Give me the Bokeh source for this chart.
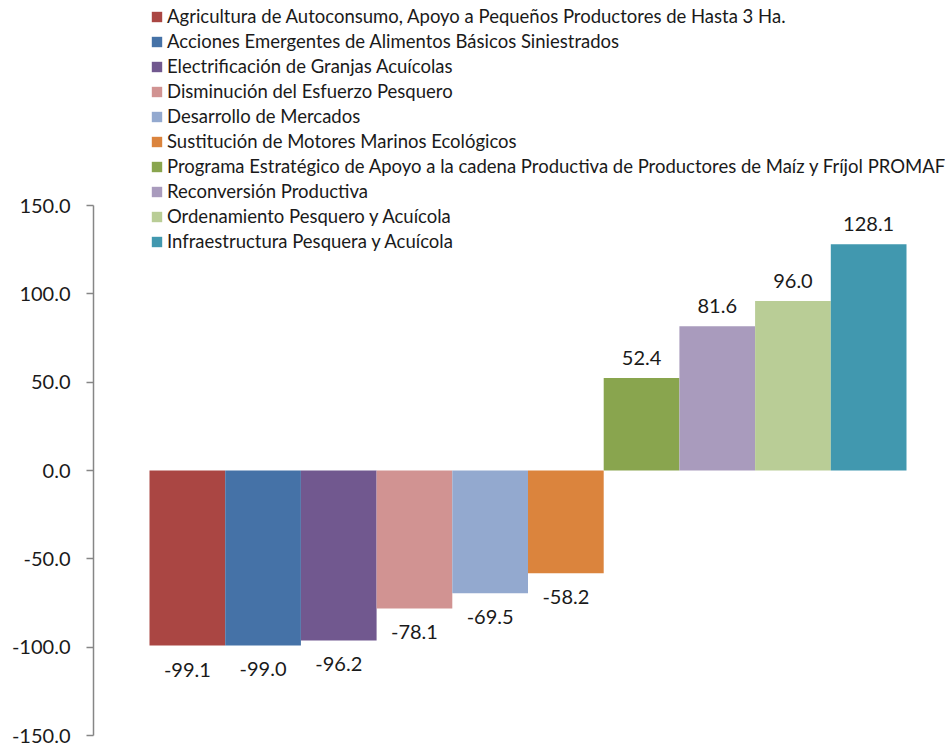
from bokeh.plotting import figure
from bokeh.models import (ColumnDataSource, Legend, LegendItem, LinearAxis,
                          FixedTicker, PrintfTickFormatter, Range1d)
from bokeh.embed import file_html
from bokeh.resources import INLINE
from bokeh.core.properties import value

categories = [
    "Agricultura de Autoconsumo, Apoyo a Pequeños Productores de Hasta 3 Ha.",
    "Acciones Emergentes de Alimentos Básicos Siniestrados",
    "Electrificación de Granjas Acuícolas",
    "Disminución del Esfuerzo Pesquero",
    "Desarrollo de Mercados",
    "Sustitución de Motores Marinos Ecológicos",
    "Programa Estratégico de Apoyo a la cadena Productiva de Productores de Maíz y Fríjol PROMAF",
    "Reconversión Productiva",
    "Ordenamiento Pesquero y Acuícola",
    "Infraestructura Pesquera y Acuícola",
]
values = [-99.1, -99.0, -96.2, -78.1, -69.5, -58.2, 52.4, 81.6, 96.0, 128.1]
colors = ["#AA4643", "#4572A7", "#71588F", "#D19392", "#93A9CF",
          "#DB843D", "#89A54E", "#A99BBD", "#B9CD96", "#4198AF"]
y_ticks = [-150, -100, -50, 0, 50, 100, 150]

FONT = "Lato"

xs = list(range(len(values)))
labels = [f"{v:.1f}" for v in values]
offsets = [-20 if v >= 0 else 24 for v in values]

src = ColumnDataSource(dict(x=xs, top=values, color=colors, label=labels, yoff=offsets))

W, H = 945, 746
LEFT = 93
BOTTOM = 11
px_per_cat = 75.7
frame_w = W - LEFT
x0 = -0.5 - 56 / px_per_cat
x1 = x0 + frame_w / px_per_cat
px_per_unit = 88.33 / 50
frame_h = H - BOTTOM
y1 = -150 + frame_h / px_per_unit

p = figure(width=W, height=H, output_backend="svg", toolbar_location=None,
           x_range=Range1d(x0, x1), y_range=Range1d(-150, y1),
           x_axis_location=None, y_axis_location=None,
           min_border_left=LEFT, min_border_right=0, min_border_top=0,
           min_border_bottom=BOTTOM)
p.outline_line_color = None
p.xgrid.visible = False
p.ygrid.visible = False
p.background_fill_color = "white"

ax = LinearAxis(ticker=FixedTicker(ticks=y_ticks),
                formatter=PrintfTickFormatter(format="%.1f"))
ax.bounds = (-150, 150)
ax.axis_line_color = "#868686"
ax.axis_line_width = 1.5
ax.major_tick_line_color = "#868686"
ax.major_tick_line_width = 1.5
ax.major_tick_out = 7
ax.major_tick_in = 0
ax.minor_tick_out = 0
ax.minor_tick_in = 0
ax.major_label_standoff = 16
ax.major_label_text_font = FONT
ax.major_label_text_font_size = "20px"
ax.major_label_text_color = "#1a1a1a"
p.add_layout(ax, "left")

r = p.vbar(x="x", top="top", bottom=0, width=1.0, fill_color="color",
           line_color=None, source=src)

p.text(x="x", y="top", text="label", y_offset="yoff", source=src,
       text_align="center", text_baseline="alphabetic",
       text_font=value(FONT), text_font_size="20px", text_color="#1a1a1a")

items = [LegendItem(label=c, renderers=[r], index=i) for i, c in enumerate(categories)]
legend = Legend(items=items, location=(57, 481.5), orientation="vertical",
                label_text_font=FONT, label_text_font_size="18.5px",
                label_text_color="#1a1a1a",
                glyph_width=13, glyph_height=13, label_standoff=4,
                label_height=25, spacing=0, padding=0, margin=0,
                border_line_alpha=0, background_fill_alpha=0)
p.add_layout(legend)

open("out.html", "w").write(file_html(p, INLINE))
